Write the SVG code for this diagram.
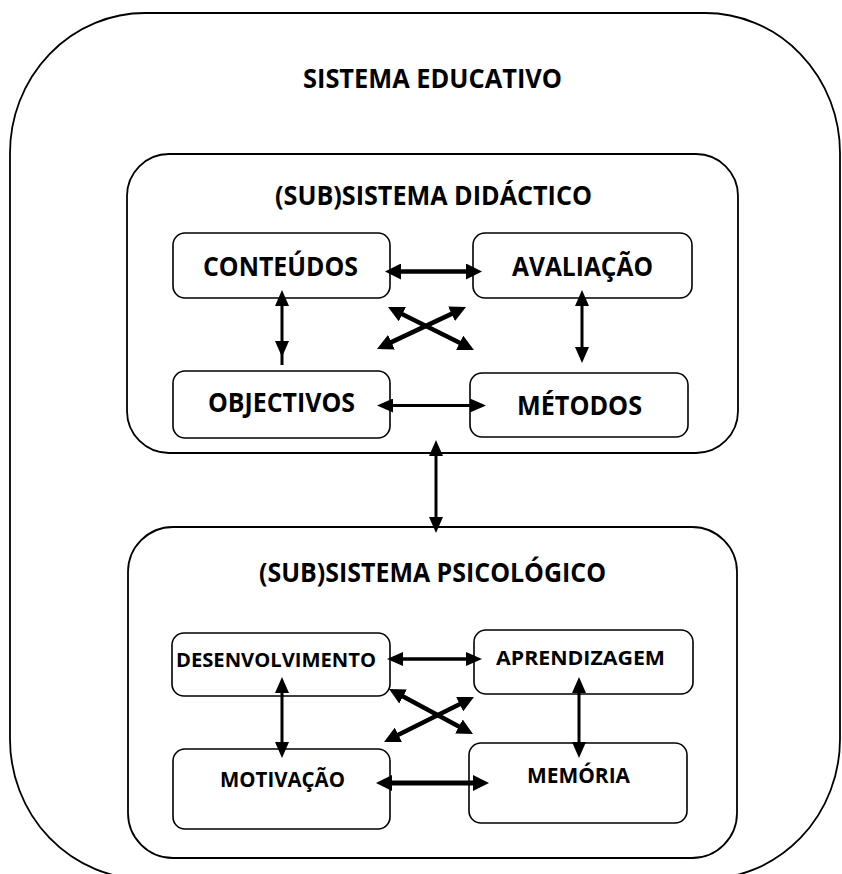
<svg xmlns="http://www.w3.org/2000/svg" width="842" height="874" viewBox="0 0 842 874">
<style>
  .frame { fill: none; stroke: #000; stroke-width: 1.8; }
  .box { fill: #fff; stroke: #000; stroke-width: 1.6; }
  .t { font-family: "Open Sans", "Liberation Sans", sans-serif; font-weight: 700; fill: #000; text-anchor: middle; }
  .big { font-size: 26px; }
  .mid { font-size: 22px; }
  .sm { font-size: 20px; }
  .c { fill: none; stroke: #000; }
  .w5 { stroke-width: 4.5; }
  .w3 { stroke-width: 3; }
</style>
<defs>
  <marker id="ah" viewBox="-10 -8 16 16" refX="0" refY="0" markerWidth="16" markerHeight="16" markerUnits="userSpaceOnUse" orient="auto-start-reverse">
    <path d="M-10,-8 L6,0 L-10,8 z" fill="#000"/>
  </marker>
  <marker id="as" viewBox="-10 -7 16 14" refX="0" refY="0" markerWidth="16" markerHeight="14" markerUnits="userSpaceOnUse" orient="auto-start-reverse">
    <path d="M-10,-7 L6,0 L-10,7 z" fill="#000"/>
  </marker>
</defs>

<g id="sistema-educativo">
  <rect class="frame" x="10" y="13" width="830" height="866" rx="135" ry="140"/>
  <text class="t big" x="432.5" y="88" textLength="259" lengthAdjust="spacingAndGlyphs">SISTEMA EDUCATIVO</text>
</g>

<g id="subsistema-didactico">
  <rect class="frame" x="127" y="154" width="611" height="299" rx="42" ry="42"/>
  <text class="t big" x="433.5" y="205" textLength="317" lengthAdjust="spacingAndGlyphs">(SUB)SISTEMA DIDÁCTICO</text>
</g>

<g id="subsistema-psicologico">
  <rect class="frame" x="128" y="527" width="609" height="331" rx="45" ry="45"/>
  <text class="t big" x="432.5" y="582" textLength="347" lengthAdjust="spacingAndGlyphs">(SUB)SISTEMA PSICOLÓGICO</text>
</g>

<g id="conteudos">
  <rect class="box" x="173" y="233" width="217" height="65" rx="12"/>
  <text class="t big" x="280.5" y="276" textLength="155" lengthAdjust="spacingAndGlyphs">CONTEÚDOS</text>
</g>
<g id="avaliacao">
  <rect class="box" x="473" y="233" width="219" height="65" rx="12"/>
  <text class="t big" x="582.5" y="276" textLength="141" lengthAdjust="spacingAndGlyphs">AVALIAÇÃO</text>
</g>
<g id="objectivos">
  <rect class="box" x="173" y="371" width="217" height="67" rx="12"/>
  <text class="t big" x="281.5" y="412" textLength="147" lengthAdjust="spacingAndGlyphs">OBJECTIVOS</text>
</g>
<g id="metodos">
  <rect class="box" x="470" y="373" width="218" height="64" rx="12"/>
  <text class="t big" x="579.5" y="415" textLength="125" lengthAdjust="spacingAndGlyphs">MÉTODOS</text>
</g>

<g id="desenvolvimento">
  <rect class="box" x="172" y="633" width="218" height="63" rx="12"/>
  <text class="t sm" x="276" y="667" textLength="200" lengthAdjust="spacingAndGlyphs">DESENVOLVIMENTO</text>
</g>
<g id="aprendizagem">
  <rect class="box" x="474" y="630" width="219" height="64" rx="12"/>
  <text class="t sm" x="580.5" y="665" textLength="169" lengthAdjust="spacingAndGlyphs">APRENDIZAGEM</text>
</g>
<g id="motivacao">
  <rect class="box" x="173" y="749" width="217" height="80" rx="12"/>
  <text class="t mid" x="282.5" y="787" textLength="125" lengthAdjust="spacingAndGlyphs">MOTIVAÇÃO</text>
</g>
<g id="memoria">
  <rect class="box" x="469" y="743" width="218" height="80" rx="12"/>
  <text class="t mid" x="578.5" y="783" textLength="103" lengthAdjust="spacingAndGlyphs">MEMÓRIA</text>
</g>

<g id="connectors">
  <!-- didactic -->
  <path class="c w5" d="M391,271.5 H476" marker-start="url(#ah)" marker-end="url(#ah)"/>
  <path class="c w5" d="M393.4,309.7 L468.6,347.3" marker-start="url(#ah)" marker-end="url(#ah)"/>
  <path class="c w5" d="M382.4,346.4 L460.6,309.6" marker-start="url(#ah)" marker-end="url(#ah)"/>
  <path class="c w3" d="M282,296 V351" marker-start="url(#as)" marker-end="url(#as)"/>
  <path class="c w3" d="M282,350 V365"/>
  <path class="c w3" d="M582,296 V357" marker-start="url(#as)" marker-end="url(#as)"/>
  <path class="c w3" d="M383,405.5 H480" marker-start="url(#as)" marker-end="url(#as)"/>
  <!-- between subsystems -->
  <path class="c w3" d="M436,446 V527" marker-start="url(#as)" marker-end="url(#as)"/>
  <!-- psychological -->
  <path class="c" stroke-width="3.5" d="M393,659 H476" marker-start="url(#as)" marker-end="url(#as)"/>
  <path class="c w5" d="M394.3,691.8 L467.7,731.2" marker-start="url(#ah)" marker-end="url(#ah)"/>
  <path class="c w5" d="M389.4,739.3 L468.6,699.7" marker-start="url(#ah)" marker-end="url(#ah)"/>
  <path class="c w3" d="M282,683 V752" marker-start="url(#as)" marker-end="url(#as)"/>
  <path class="c w3" d="M579,683 V752" marker-start="url(#as)" marker-end="url(#as)"/>
  <path class="c" stroke-width="5" d="M382,783 H483" marker-start="url(#ah)" marker-end="url(#ah)"/>
</g>
</svg>
